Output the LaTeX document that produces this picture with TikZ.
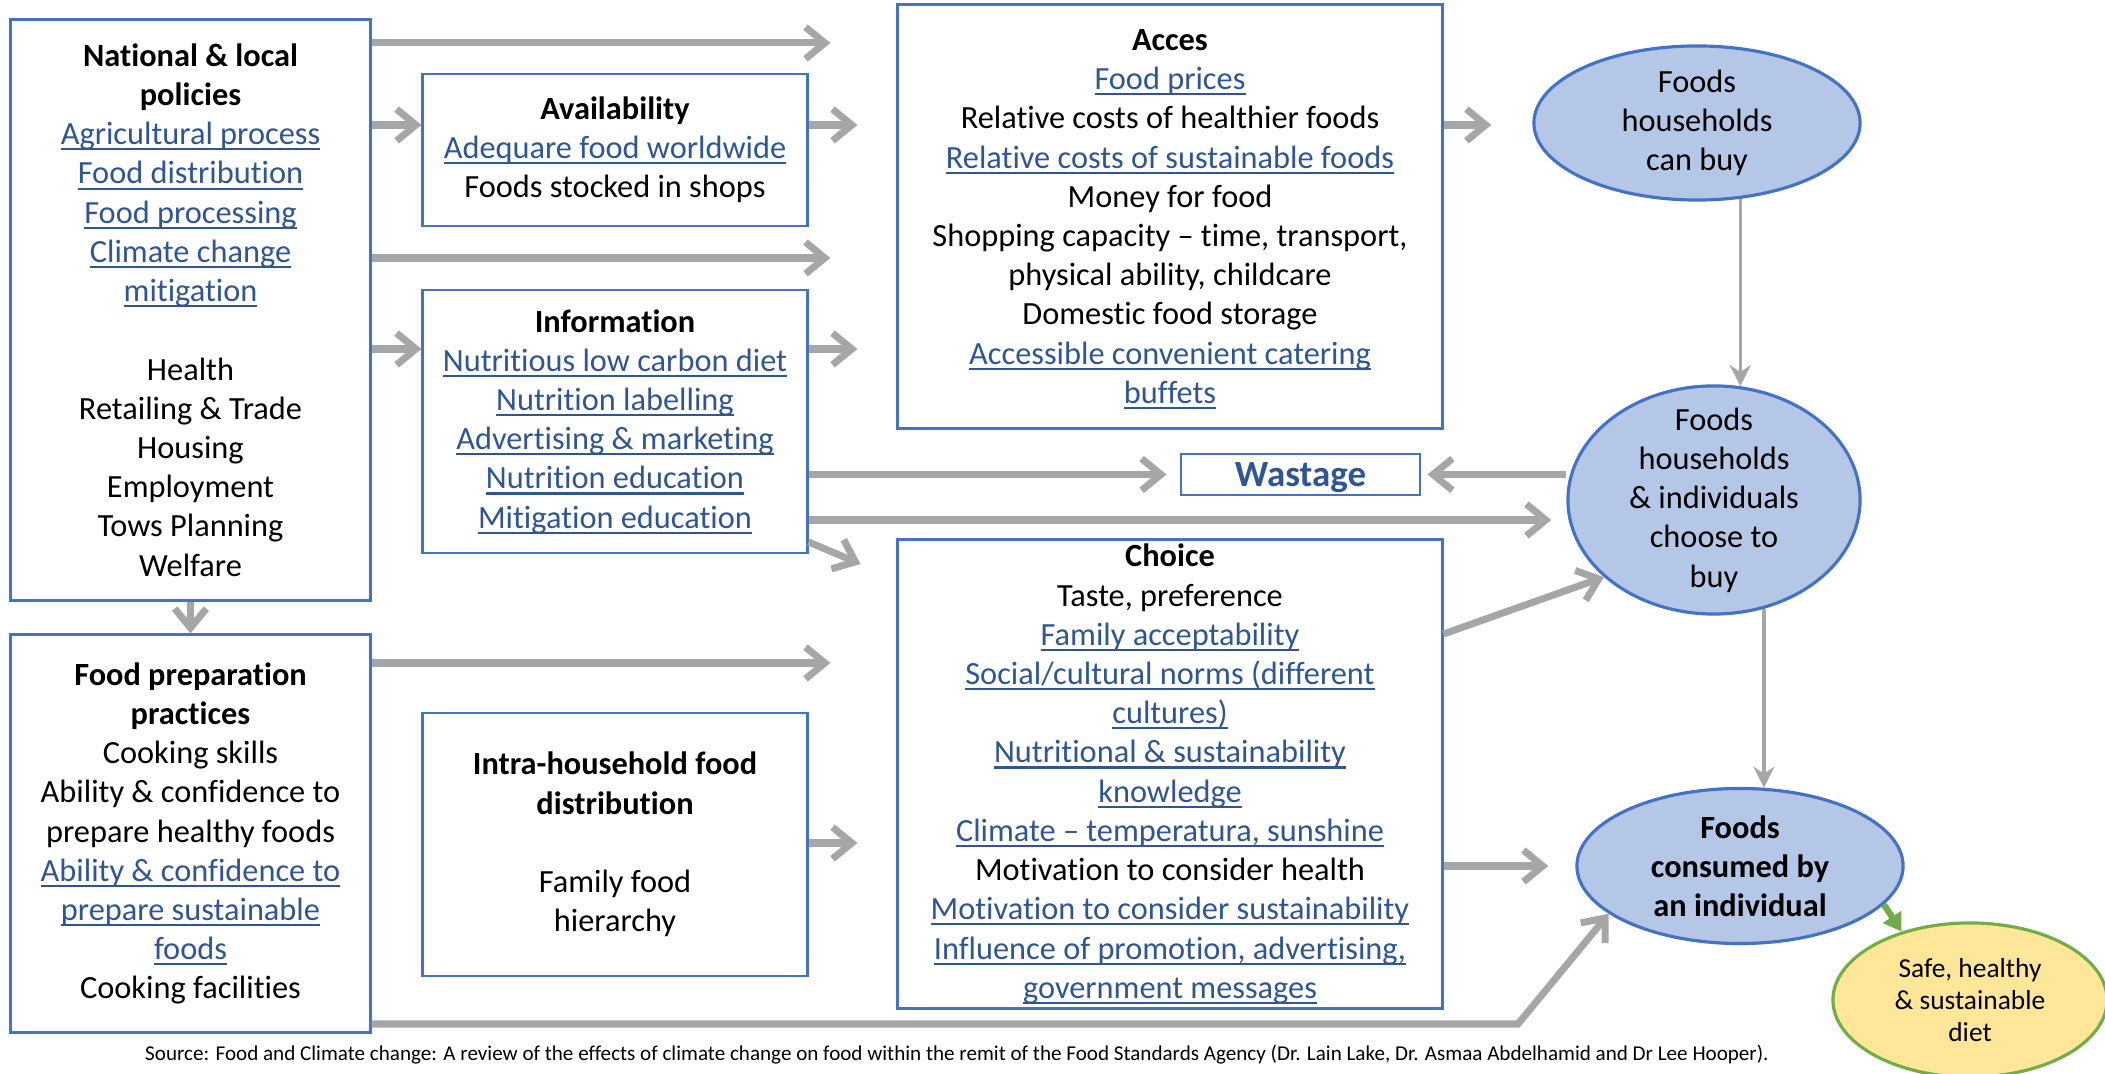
\documentclass[tikz,border=0pt]{standalone}
\usepackage{fontspec}
\setmainfont{Carlito}[Ligatures={TeX,NoCommon}]
\usepackage{xcolor}
\usepackage{tikz}
\usetikzlibrary{arrows.meta,shapes.geometric,positioning,calc}
\definecolor{BoxBlue}{HTML}{4472C4}
\definecolor{LinkBlue}{HTML}{2F5597}
\definecolor{BubbleFill}{HTML}{B4C7E7}
\definecolor{FlowGray}{HTML}{A6A6A6}
\definecolor{DietFill}{HTML}{FFE699}
\definecolor{DietGreen}{HTML}{70AD47}
% underlined link text, rule kept out of the line depth
\newcommand{\lnk}[1]{{\color{LinkBlue}\setbox0\hbox{#1}%
	\rlap{\raisebox{-1.6pt}[0pt][0pt]{\rule{\wd0}{0.6pt}}}\box0}}
\tikzset{%Global config
	>=latex,
	color = black ,
	%Styles
	Box/.style={
		draw=BoxBlue,
		line width=0.8pt,
		align=center,
		inner sep=0pt,
		font=\fontsize{9.2}{11.15}\selectfont,
	},
	Bubble/.style={
		ellipse,
		draw=BoxBlue,
		fill=BubbleFill,
		line width=0.9pt,
		inner sep=0pt,
	},
	BubbleText/.style={
		align=center,
		inner sep=0pt,
		font=\fontsize{9.2}{11.15}\selectfont,
	},
	Flow/.style={
		draw=FlowGray,
		line width=2pt,
		-{Straight Barb[length=5.5pt,width=9pt]},
	},
	ThinFlow/.style={
		draw=FlowGray,
		line width=0.9pt,
		-{Stealth[length=6pt,width=6pt,inset=2pt]},
	},
}

\begin{document}
\begin{tikzpicture}[x=0.01cm,y=-0.01cm]
		\useasboundingbox (0,0) rectangle (2105,1074);
		% Left column
		\node[Box, minimum width=3.59cm, minimum height=5.80cm] (nat) at (190.5,310) {
			\textbf{National \& local}\\
			\textbf{policies}\\
			\lnk{Agricultural process}\\
			\lnk{Food distribution}\\
			\lnk{Food processing}\\
			\lnk{Climate change}\\
			\lnk{mitigation}\\[11.15pt]
			Health\\
			Retailing \& Trade\\
			Housing\\
			Employment\\
			Tows Planning\\
			Welfare
		};
		\node[Box, minimum width=3.59cm, minimum height=3.97cm] (prep) at (190.5,833.5) {
			\textbf{Food preparation}\\
			\textbf{practices}\\
			Cooking skills\\
			Ability \& confidence to\\
			prepare healthy foods\\
			\lnk{Ability \& confidence to}\\
			\lnk{prepare sustainable}\\
			\lnk{foods}\\
			Cooking facilities
		};
		% Middle column
		\node[Box, minimum width=3.84cm, minimum height=1.52cm] (avail) at (615,150) {
			\textbf{Availability}\\
			\lnk{Adequare food worldwide}\\
			Foods stocked in shops
		};
		\node[Box, minimum width=3.84cm, minimum height=2.63cm] (info) at (615,421.5) {
			\textbf{Information}\\
			\lnk{Nutritious low carbon diet}\\
			\lnk{Nutrition labelling}\\
			\lnk{Advertising \& marketing}\\
			\lnk{Nutrition education}\\
			\lnk{Mitigation education}
		};
		\node[Box, minimum width=3.84cm, minimum height=2.63cm] (intra) at (615,844.5) {
			\textbf{Intra-household food}\\
			\textbf{distribution}\\[11.15pt]
			Family food\\
			hierarchy
		};
		% Right column
		\node[Box, minimum width=5.44cm, minimum height=4.23cm] (acc) at (1170,216.5) {
			\textbf{Acces}\\
			\lnk{Food prices}\\
			Relative costs of healthier foods\\
			\lnk{Relative costs of sustainable foods}\\
			Money for food\\
			Shopping capacity -- time, transport,\\
			physical ability, childcare\\
			Domestic food storage\\
			\lnk{Accessible convenient catering}\\
			\lnk{buffets}
		};
		\node[Box, minimum width=2.39cm, minimum height=0.41cm, text depth=0pt,
			font=\fontsize{10.5}{12}\selectfont\bfseries, text=LinkBlue] (waste) at (1300.5,474.5) {Wastage};
		\node[Box, minimum width=5.44cm, minimum height=4.68cm] (choice) at (1170,774) {
			\textbf{Choice}\\
			Taste, preference\\
			\lnk{Family acceptability}\\
			\lnk{Social/cultural norms (different}\\
			\lnk{cultures)}\\
			\lnk{Nutritional \& sustainability}\\
			\lnk{knowledge}\\
			\lnk{Climate -- temperatura, sunshine}\\
			Motivation to consider health\\
			\lnk{Motivation to consider sustainability}\\
			\lnk{Influence of promotion, advertising,}\\
			\lnk{government messages}
		};
		% Outcomes
		\node[Bubble, minimum width=3.26cm, minimum height=1.54cm] (canbuy) at (1697,123) {};
		\node[BubbleText] (canbuyTxt) at (canbuy) {Foods\\ households\\ can buy};
		\node[Bubble, minimum width=2.92cm, minimum height=2.28cm] (choose) at (1714,500) {};
		\node[BubbleText] (chooseTxt) at (choose) {Foods\\ households\\ \& individuals\\ choose to\\ buy};
		\node[Bubble, minimum width=3.26cm, minimum height=1.55cm] (consumed) at (1740,866) {};
		\node[BubbleText, font=\fontsize{9.2}{11.15}\selectfont\bfseries] (consumedTxt) at (consumed) {Foods\\ consumed by\\ an individual};
		\node[Bubble, draw=DietGreen, fill=DietFill, minimum width=2.74cm, minimum height=1.54cm] (diet) at (1970,1000) {};
		\node[BubbleText, font=\fontsize{7.8}{9.2}\selectfont] (dietTxt) at (diet) {Safe, healthy\\ \& sustainable\\ diet};
		
		% Arrows
		\draw[Flow, shorten >=0.66cm] (nat.east |- 0,43) -- (acc.west |- 0,43);
		\draw[Flow] (nat.east |- 0,125) -- (avail.west |- 0,125);
		\draw[Flow, shorten >=0.39cm] (avail.east |- 0,125) -- (acc.west |- 0,125);
		\draw[Flow, shorten >=0.66cm] (nat.east |- 0,258) -- (acc.west |- 0,258);
		\draw[Flow] (nat.east |- 0,349) -- (info.west |- 0,349);
		\draw[Flow, shorten >=0.39cm] (info.east |- 0,349) -- (acc.west |- 0,349);
		\draw[Flow, shorten >=0.41cm] (acc.east |- 0,125) -- (canbuy.west |- 0,125);
		\draw[Flow, shorten >=0.13cm] (info.east |- waste.west) -- (waste.west);
		\draw[Flow, shorten >=0.06cm] (choose.west |- waste.east) -- (waste.east);
		\draw[Flow, shorten >=0.15cm] (info.east |- 0,520) -- (choose.west |- 0,520);
		\draw[Flow] (info.east |- 0,542) -- ++(52,22);
		\draw[Flow] (choice.east |- 0,634) -- (choose.215);
		\draw[Flow] (nat.south) -- (prep.north);
		\draw[Flow, shorten >=0.66cm] (prep.east |- 0,663) -- (choice.west |- 0,663);
		\draw[Flow, shorten >=0.39cm] (intra.east |- 0,843) -- (choice.west |- 0,843);
		\draw[Flow, shorten >=0.27cm] (choice.east |- consumed.west) -- (consumed.west);
		\coordinate (bend) at (1518,1024);
		\draw[Flow] (prep.east |- bend) -- (bend) -- (consumed.200);
		\draw[ThinFlow] (choose.77 |- canbuy.301) -- (choose.77);
		\draw[ThinFlow] (consumed.73 |- choose.295) -- (consumed.73);
		\draw[draw=DietGreen, line width=1.8pt, -{Triangle[length=5pt,width=6pt]}] (consumed.345) -- (diet.135);
		
		\node[font=\fontsize{6}{7}\selectfont] (src) at (957,1055) {Source: Food and Climate change: A review of the effects of climate change on food within the remit of the Food Standards Agency (Dr. Lain Lake, Dr. Asmaa Abdelhamid and Dr Lee Hooper).};
	\end{tikzpicture}
\end{document}
